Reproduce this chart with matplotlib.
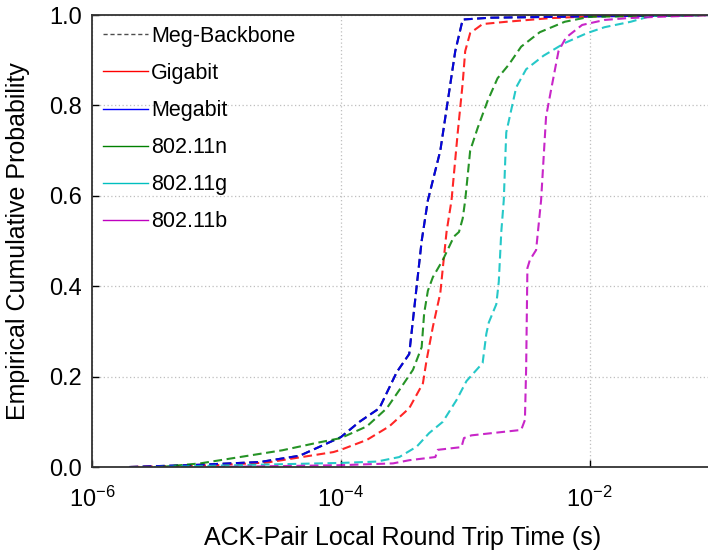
#!/usr/bin/env python3
"""Empirical CDF of ACK-pair local round trip times per link type."""

import matplotlib
matplotlib.use("Agg")
import matplotlib.pyplot as plt
import numpy as np
from matplotlib.lines import Line2D
from matplotlib.ticker import FixedLocator, FormatStrFormatter, NullLocator

plt.rcParams["font.family"] = ["Liberation Sans", "DejaVu Sans"]
plt.rcParams["mathtext.fontset"] = "custom"
plt.rcParams["mathtext.rm"] = "Liberation Sans"

# log10 of RTT (s) and cumulative probability.
# The backbone curve is hidden under the Megabit one in the original.
backbone_log_t = [-5.7, -5.13, -4.65, -4.33, -4.0, -3.85, -3.69, -3.55, -3.45, -3.41,
                  -3.39, -3.35, -3.30, -3.20, -3.14, -3.08, -3.02, -2.8, -2.0, -1.0]
backbone_p = [0.0, 0.005, 0.011, 0.025, 0.066, 0.10, 0.13, 0.21, 0.25, 0.35,
              0.40, 0.50, 0.59, 0.70, 0.81, 0.92, 0.99, 0.994, 0.997, 1.0]

megabit_log_t = [-5.7, -5.13, -4.65, -4.33, -4.0, -3.85, -3.69, -3.55, -3.45, -3.41,
                 -3.39, -3.35, -3.30, -3.20, -3.14, -3.08, -3.02, -2.8, -2.0, -1.0]
megabit_p = [0.0, 0.005, 0.011, 0.025, 0.066, 0.10, 0.13, 0.21, 0.25, 0.35,
             0.40, 0.50, 0.59, 0.70, 0.81, 0.92, 0.99, 0.994, 0.997, 1.0]

gigabit_log_t = [-5.69, -5.0, -4.59, -4.06, -4.0, -3.79, -3.61, -3.45, -3.34, -3.31,
                 -3.26, -3.20, -3.18, -3.15, -3.11, -3.06, -3.02, -3.0, -2.96, -2.86,
                 -2.67, -2.32, -1.9, -1.0]
gigabit_p = [0.0, 0.004, 0.01, 0.033, 0.038, 0.06, 0.09, 0.13, 0.185, 0.237,
             0.31, 0.385, 0.44, 0.52, 0.59, 0.74, 0.85, 0.92, 0.96, 0.98,
             0.985, 0.993, 0.998, 1.0]

n_log_t = [-5.45, -5.13, -4.47, -4.2, -4.0, -3.79, -3.63, -3.53, -3.42, -3.35,
           -3.33, -3.30, -3.26, -3.18, -3.09, -3.05, -3.02, -3.0, -2.96, -2.90,
           -2.82, -2.74, -2.65, -2.55, -2.4, -2.2, -2.0, -1.0]
n_p = [0.0, 0.008, 0.037, 0.053, 0.064, 0.09, 0.13, 0.17, 0.215, 0.265,
       0.34, 0.39, 0.42, 0.458, 0.51, 0.52, 0.55, 0.59, 0.70, 0.75,
       0.81, 0.86, 0.89, 0.93, 0.962, 0.985, 0.996, 1.0]

g_log_t = [-5.5, -4.5, -4.0, -3.71, -3.53, -3.39, -3.29, -3.18, -3.07, -2.99,
           -2.86, -2.83, -2.81, -2.75, -2.73, -2.71, -2.69, -2.67, -2.63, -2.59,
           -2.51, -2.37, -2.2, -2.02, -1.88, -1.67, -1.53, -1.43, -1.3, -1.0]
g_p = [0.0, 0.006, 0.009, 0.012, 0.022, 0.045, 0.075, 0.10, 0.148, 0.19,
       0.23, 0.295, 0.32, 0.36, 0.41, 0.52, 0.59, 0.74, 0.79, 0.84,
       0.88, 0.91, 0.938, 0.96, 0.973, 0.985, 0.996, 1.0, 1.0, 1.0]

b_log_t = [-5.0, -4.0, -3.58, -3.45, -3.24, -3.22, -3.03, -3.01, -2.95, -2.55,
           -2.52, -2.51, -2.50, -2.48, -2.43, -2.39, -2.35, -2.31, -2.25, -2.19,
           -2.06, -1.88, -1.7, -1.45, -1.0]
b_p = [0.0, 0.004, 0.008, 0.015, 0.022, 0.038, 0.044, 0.064, 0.07, 0.082,
       0.104, 0.22, 0.44, 0.458, 0.48, 0.59, 0.775, 0.834, 0.92, 0.95,
       0.978, 0.989, 0.993, 0.996, 1.0]

series = [
    ("Meg-Backbone", backbone_log_t, backbone_p, "#000000"),
    ("Gigabit", gigabit_log_t, gigabit_p, "#ff0000"),
    ("Megabit", megabit_log_t, megabit_p, "#0000ff"),
    ("802.11n", n_log_t, n_p, "#008000"),
    ("802.11g", g_log_t, g_p, "#00bfbf"),
    ("802.11b", b_log_t, b_p, "#bf00bf"),
]

fig = plt.figure(figsize=(7.08, 5.54), dpi=100)
ax = fig.add_axes([92 / 708, 87 / 554, 622 / 708, 452 / 554])

dash = (0, (4.2, 2.2))
for label, log_t, prob, color in series:
    ax.plot(10 ** np.asarray(log_t), prob, color=color, lw=1.5,
            linestyle=dash, alpha=0.85)

ax.set_xscale("log")
ax.set_xlim(1e-6, 1e-1)
ax.set_ylim(0, 1)
ax.xaxis.set_major_locator(FixedLocator([1e-6, 1e-4, 1e-2]))
ax.xaxis.set_minor_locator(NullLocator())
ax.set_yticks(np.arange(0, 1.01, 0.2))
ax.yaxis.set_major_formatter(FormatStrFormatter("%.1f"))
ax.tick_params(direction="in", length=5, width=1, labelsize=17, pad=7)
ax.tick_params(axis="x", pad=14)
ax.grid(True, color="0.75", linestyle=(0, (1, 2)), lw=0.9)
for spine in ax.spines.values():
    spine.set_linewidth(1.3)
    spine.set_color("0.2")

ax.set_xlabel("ACK-Pair Local Round Trip Time (s)", fontsize=18, labelpad=10)
ax.set_ylabel("Empirical Cumulative Probability", fontsize=18, labelpad=14)

handles = [Line2D([], [], color="0.3", lw=1.0, linestyle=(0, (3, 2)))]
handles += [Line2D([], [], color=c, lw=1.0) for _, _, _, c in series[1:]]
ax.legend(handles, [s[0] for s in series], loc="upper left", frameon=False,
          fontsize=15.5, handlelength=2.1, handletextpad=0.15,
          labelspacing=0.75, borderaxespad=0.1)

fig.savefig("out.png", dpi=100, facecolor="white")
